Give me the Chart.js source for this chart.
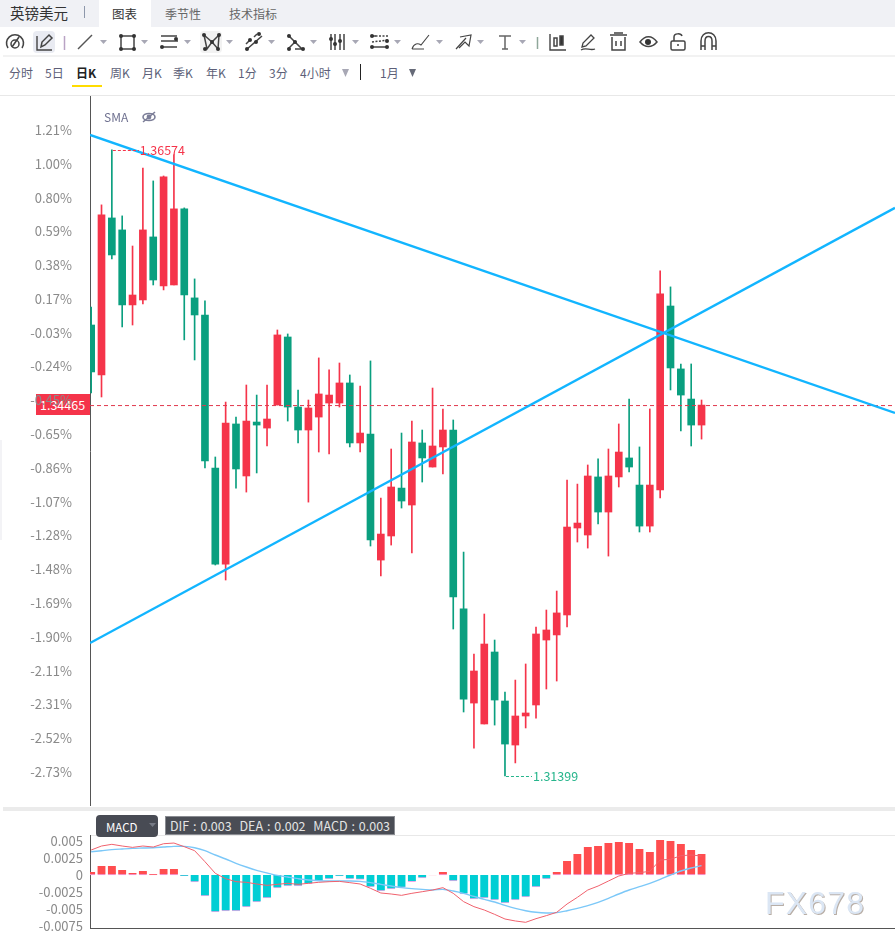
<!DOCTYPE html>
<html>
<head>
<meta charset="utf-8">
<title>英镑美元</title>
<script src="https://cdn.jsdelivr.net/npm/chart.js@4"></script>
<style>
html, body { margin: 0; padding: 0; background: #fff; }
body { position: relative; width: 895px; height: 938px; overflow: hidden; font-family: "Noto Sans CJK SC", "Noto Sans", sans-serif; }
.abs, canvas { position: absolute; }
.t { position: absolute; white-space: nowrap; line-height: 16px; }
.time { top: 65px; font-size: 12px; color: #5d5f78; }
</style>
</head>
<body>

<!-- top tabs -->
<div class="abs" style="left:0;top:0;width:895px;height:27px;background:#f0f1f5"></div>
<div class="abs" style="left:99px;top:0;width:52px;height:27px;background:#fff"></div>
<div class="t" style="left:10px;top:5px;font-size:14.5px;color:#333">英镑美元</div>
<div class="abs" style="left:84px;top:6px;width:1px;height:12px;background:#8d97aa"></div>
<div class="t" style="left:112px;top:6px;font-size:12.5px;color:#333">图表</div>
<div class="t" style="left:165px;top:6px;font-size:12px;color:#666">季节性</div>
<div class="t" style="left:229px;top:6px;font-size:12px;color:#666">技术指标</div>

<!-- drawing toolbar -->
<svg class="abs" style="left:0;top:0" width="895" height="96" fill="none" stroke="#444" stroke-width="1.5">
  <line x1="3" y1="56" x2="895" y2="56" stroke="#eee"/>
  <line x1="0" y1="95.5" x2="895" y2="95.5" stroke="#e8e8e8" stroke-width="1"/>
  <rect x="33" y="31" width="22" height="22" rx="4" fill="#e9ebf2" stroke="none"/>
  <rect x="200" y="31" width="22" height="22" rx="4" fill="#f2f2f2" stroke="none"/>
  <path d="M8 48 A8.5 8.5 0 1 1 22 48 M19 37 L12 47" stroke-width="1.6"/>
  <circle cx="15" cy="44" r="4"/>
  <path d="M37 36 V50 H52" stroke-width="1.4"/>
  <path d="M41 47 L42 42 L49 35 L52 38 L45 45 Z"/>
  <line x1="64.5" y1="36" x2="64.5" y2="50" stroke="#b9a3c4"/>
  <line x1="78" y1="49" x2="92" y2="35" stroke="#555"/>
  <rect x="121" y="36" width="13" height="13"/>
  <g fill="#333" stroke="none"><circle cx="121" cy="36" r="2"/><circle cx="134" cy="36" r="2"/><circle cx="121" cy="49" r="2"/><circle cx="134" cy="49" r="2"/></g>
  <path d="M161 36 H177 M161 41 H178 M161 47 H177"/>
  <g fill="#333" stroke="none"><circle cx="176" cy="39" r="2"/><circle cx="162" cy="47" r="2"/></g>
  <path d="M204 35 L207 49 L212 42 L218 49 L219 35 L212 42 L204 35"/>
  <g fill="#333" stroke="none"><circle cx="204" cy="35" r="2"/><circle cx="219" cy="35" r="2"/><circle cx="212" cy="42" r="2"/><circle cx="205" cy="49" r="2"/><circle cx="218" cy="49" r="2"/></g>
  <path d="M246 44 L250 40 M257 34 L254 37 M246 50 L262 36"/>
  <g fill="#333" stroke="none"><circle cx="250" cy="40" r="2"/><circle cx="259" cy="34" r="2"/><circle cx="247" cy="49" r="2"/><circle cx="256" cy="42" r="2"/></g>
  <path d="M288 35 L302 49 H295 M288 49 L296 41"/>
  <g fill="#333" stroke="none"><circle cx="289" cy="36" r="2"/><circle cx="295" cy="42" r="2"/><circle cx="289" cy="49" r="2"/><circle cx="303" cy="49" r="2"/></g>
  <path d="M331 34 V50 M335 34 V50 M340 34 V50 M344 34 V50"/>
  <g fill="#333" stroke="none"><circle cx="331" cy="39" r="2"/><circle cx="335" cy="44" r="2"/><circle cx="340" cy="41" r="2"/></g>
  <path d="M372 36 H388 M372 42 L388 40" stroke-dasharray="2 1.5"/>
  <path d="M372 47 H388 M372 36 H376"/>
  <g fill="#333" stroke="none"><circle cx="372" cy="36" r="2"/><circle cx="372" cy="47" r="2"/><circle cx="387" cy="47" r="2"/><circle cx="387" cy="41" r="2"/></g>
  <path d="M412 49 C414 43 418 43 421 45 L429 35 M412 49 H424" stroke-width="1.1"/>
  <path d="M456 49 L466 38 M460 37 L471 35 L469 46 L465 42 L459 48" stroke-width="1.2"/>
  <path d="M499 36 H511 M505 36 V49 M502 49 H508" stroke="#666"/>
  <line x1="537.5" y1="37" x2="537.5" y2="49" stroke="#8fa79a"/>
  <path d="M550 34 V50 H566" stroke-width="1.4"/>
  <rect x="554" y="38" width="3" height="8"/>
  <rect x="560" y="36" width="3" height="9" fill="#333"/>
  <path d="M582 47 L583 43 L591 35 L594 38 L586 46 Z M581 50 C586 47 590 51 595 49" stroke-width="1.3"/>
  <path d="M610 35 H627 M614 33 H623 M612 37 V50 H625 V37 M616 41 V46 M621 41 V46"/>
  <path d="M640 42 C645 35 652 35 657 42 C652 48 645 48 640 42 Z"/>
  <circle cx="648" cy="42" r="3" fill="#333" stroke="none"/>
  <rect x="671" y="41" width="14" height="9" rx="1.5"/>
  <path d="M674 41 V37 C674 33 681 33 682 36 M678 44 V46"/>
  <path d="M701 50 V41 C701 30 716 30 716 41 V50 M701 46 H705 M712 46 H716 M705 50 V41 C705 35 712 35 712 41 V50"/>
  <!-- dropdown carets -->
  <g fill="#a8a8b5" stroke="none">
    <polygon points="100,40 107,40 103.5,44"/><polygon points="141,40 148,40 144.5,44"/><polygon points="184,40 191,40 187.5,44"/>
    <polygon points="226,40 233,40 229.5,44"/><polygon points="268,40 275,40 271.5,44"/><polygon points="310,40 317,40 313.5,44"/>
    <polygon points="352,40 359,40 355.5,44"/><polygon points="394,40 401,40 397.5,44"/><polygon points="436,40 443,40 439.5,44"/>
    <polygon points="477,40 484,40 480.5,44"/><polygon points="519,40 526,40 522.5,44"/>
    <polygon points="342,69 349,69 345.5,77"/>
  </g>
  <polygon points="409,69 416,69 412.5,77" fill="#666a78" stroke="none"/>
  <line x1="360.5" y1="64" x2="360.5" y2="80" stroke="#222" stroke-width="1"/>
  <rect x="72" y="85" width="30" height="2" fill="#ffdc00" stroke="none"/>
</svg>

<!-- period row -->
<div class="t time" style="left:9px">分时</div>
<div class="t time" style="left:45px">5日</div>
<div class="t time" style="left:76px;font-weight:bold;color:#222">日K</div>
<div class="t time" style="left:110px">周K</div>
<div class="t time" style="left:142px">月K</div>
<div class="t time" style="left:173px">季K</div>
<div class="t time" style="left:206px">年K</div>
<div class="t time" style="left:238px">1分</div>
<div class="t time" style="left:269px">3分</div>
<div class="t time" style="left:300px">4小时</div>
<div class="t time" style="left:380px">1月</div>

<!-- last price tag sits under the canvas, the axis text runs over it -->
<div class="abs" style="left:36px;top:394px;width:55px;height:21px;background:#f5344a"></div>
<div class="t" style="left:40px;top:397px;font-size:12.5px;color:#fff">1.34465</div>
<div class="abs" style="left:0;top:440px;width:2px;height:100px;background:#f3f3f6"></div>

<canvas id="mainChart" width="895" height="710" style="left:0;top:96px"></canvas>

<div class="t" style="left:104px;top:109px;font-size:12px;color:#6f7190">SMA</div>
<svg class="abs" style="left:140px;top:110px" width="18" height="14" fill="none" stroke="#7c7e98" stroke-width="1.6">
  <ellipse cx="9" cy="7" rx="6" ry="3.5"/><circle cx="9" cy="7" r="1.6" fill="#7c7e98"/><line x1="3" y1="12" x2="15" y2="2"/>
</svg>

<div class="abs" style="left:3px;top:807px;width:892px;height:4px;background:#ebebeb"></div>
<div class="abs" style="left:90px;top:835px;width:805px;height:1px;background:#e8e8e8"></div>

<canvas id="macdChart" width="895" height="113" style="left:0;top:825px"></canvas>

<!-- MACD header -->
<div class="abs" style="left:96px;top:815px;width:62px;height:22px;background:#484b54;border-radius:4px"></div>
<div class="t" style="left:106px;top:819px;font-size:11.5px;color:#fff">MACD</div>
<svg class="abs" style="left:149px;top:823px" width="8" height="6"><polygon points="0,0 7,0 3.5,4" fill="#777b86"/></svg>
<div class="t" style="left:165px;top:816px;width:230px;height:19px;line-height:17px;padding-left:4px;box-sizing:border-box;background:#4a4d55;border:1px solid #8a8c92;font-size:12.5px;word-spacing:1.1px;color:#e4e4e4;white-space:pre">DIF : 0.003  DEA : 0.002  MACD : 0.003</div>

<div class="t" style="left:765px;top:886px;line-height:34px;font-family:'Liberation Sans';font-size:32px;letter-spacing:1.2px;color:#dbe6f4;text-shadow:1px 1px 0 #b8aea6">FX678</div>

<script>
// Daily candles, oldest first
var opens = [1.35127, 1.34714, 1.36012, 1.35913, 1.35293, 1.35334, 1.35855, 1.35450, 1.35458, 1.36087,
  1.35351, 1.35210, 1.33945, 1.33151, 1.34309, 1.33879, 1.34325, 1.34275, 1.34466, 1.35028,
  1.34449, 1.34259, 1.34366, 1.34482, 1.34482, 1.34648, 1.34152, 1.34226, 1.33184, 1.33383,
  1.33779, 1.33639, 1.34152, 1.33953, 1.34119, 1.34259, 1.32780, 1.32002, 1.31829, 1.32424,
  1.32019, 1.31655, 1.31895, 1.31986, 1.32523, 1.32565, 1.32730, 1.33449, 1.33391, 1.33871,
  1.33581, 1.33871, 1.34028, 1.33804, 1.33465, 1.33763, 1.35284, 1.34764, 1.34515, 1.34300];
var highs = [1.35276, 1.36120, 1.36574, 1.36029, 1.35780, 1.36425, 1.36318, 1.36359, 1.36533, 1.36095,
  1.35508, 1.35326, 1.34036, 1.34490, 1.34366, 1.34631, 1.34548, 1.34631, 1.35086, 1.35053,
  1.34590, 1.34507, 1.34855, 1.34756, 1.34813, 1.34714, 1.34623, 1.34830, 1.33697, 1.34102,
  1.34234, 1.34333, 1.34259, 1.34606, 1.34433, 1.34342, 1.33250, 1.32407, 1.32738, 1.32523,
  1.32093, 1.32192, 1.32325, 1.32631, 1.32771, 1.32928, 1.33846, 1.33812, 1.33970, 1.34020,
  1.34102, 1.34309, 1.34515, 1.34119, 1.34433, 1.35574, 1.35442, 1.34805, 1.34805, 1.34507];
var lows = [1.34565, 1.34532, 1.35673, 1.35111, 1.35127, 1.35301, 1.35458, 1.35417, 1.35458, 1.35004,
  1.34838, 1.33945, 1.33143, 1.33019, 1.33779, 1.33746, 1.33904, 1.34127, 1.34466, 1.34333,
  1.34152, 1.33663, 1.34077, 1.34061, 1.34449, 1.34119, 1.34077, 1.33300, 1.33052, 1.33308,
  1.33614, 1.33242, 1.33829, 1.33953, 1.33896, 1.32614, 1.31928, 1.31630, 1.31829, 1.31820,
  1.31399, 1.31507, 1.31796, 1.31878, 1.32118, 1.32184, 1.32631, 1.33333, 1.33283, 1.33482,
  1.33217, 1.33788, 1.33912, 1.33416, 1.33416, 1.33697, 1.34590, 1.34251, 1.34127, 1.34184];
var closes = [1.34739, 1.36037, 1.35706, 1.35293, 1.35375, 1.35913, 1.35499, 1.36351, 1.36087, 1.35375,
  1.35210, 1.34003, 1.33151, 1.34317, 1.33937, 1.34333, 1.34300, 1.34350, 1.35045, 1.34449,
  1.34259, 1.34441, 1.34557, 1.34548, 1.34648, 1.34152, 1.34234, 1.33350, 1.33399, 1.33788,
  1.33672, 1.34160, 1.34028, 1.34127, 1.34259, 1.32879, 1.32035, 1.32267, 1.32490, 1.32027,
  1.31663, 1.31895, 1.31920, 1.32573, 1.32606, 1.32747, 1.33457, 1.33490, 1.33879, 1.33581,
  1.33879, 1.34077, 1.33953, 1.33465, 1.33804, 1.35384, 1.34772, 1.34548, 1.34300, 1.34465];

// MACD panel
var macdBars = [0.00044, 0.00133, 0.00133, 0.00074, 0.0003, 0.00059, 0.00015, 0.00089, 0.00089, -0.0001,
  -0.00104, -0.00311, -0.00547, -0.00532, -0.00532, -0.00473, -0.00399, -0.0034, -0.00192, -0.00163,
  -0.00163, -0.00128, -0.00089, -0.00059, -0.00015, -0.00059, -0.00064, -0.00178, -0.00237, -0.00207,
  -0.00182, -0.00099, -0.00044, 0.00002, 0.00044, -0.00089, -0.00281, -0.00355, -0.0034, -0.0037,
  -0.00414, -0.0037, -0.00325, -0.00178, -0.00059, 0.00044, 0.00207, 0.00311, 0.00414, 0.00429,
  0.00473, 0.00488, 0.00473, 0.00385, 0.0034, 0.00518, 0.00503, 0.00459, 0.0037, 0.00311];
var dif = [0.0037, 0.00429, 0.00454, 0.00429, 0.00409, 0.00429, 0.00414, 0.00463, 0.00473, 0.00419,
  0.0036, 0.00197, 0.00025, -0.00054, -0.00099, -0.00108, -0.00133, -0.00153, -0.00138, -0.00123,
  -0.00138, -0.00123, -0.00108, -0.00099, -0.00094, -0.00113, -0.00133, -0.00197, -0.00266, -0.00281,
  -0.00301, -0.00271, -0.00247, -0.00222, -0.00187, -0.00271, -0.00394, -0.00468, -0.00518, -0.00582,
  -0.00651, -0.0068, -0.007, -0.00646, -0.00601, -0.00552, -0.00429, -0.0033, -0.00222, -0.00163,
  -0.00089, -0.00015, 0.00025, 0.00035, 0.00054, 0.00222, 0.00232, 0.00286, 0.00296, 0.00281];
var dea = [0.00345, 0.0036, 0.00375, 0.00385, 0.00394, 0.00399, 0.00404, 0.00414, 0.00424, 0.00424,
  0.00404, 0.0036, 0.00296, 0.00237, 0.00173, 0.00118, 0.00069, 0.0003, -0.00005, -0.0003,
  -0.00054, -0.00074, -0.00084, -0.00089, -0.00089, -0.00089, -0.00094, -0.00113, -0.00138, -0.00163,
  -0.00187, -0.00202, -0.00212, -0.00222, -0.00212, -0.00237, -0.00271, -0.00316, -0.0036, -0.00399,
  -0.00449, -0.00493, -0.00528, -0.00552, -0.00562, -0.00557, -0.00528, -0.00493, -0.00454, -0.00404,
  -0.00345, -0.00281, -0.00222, -0.00173, -0.00123, -0.00064, 0, 0.00059, 0.00104, 0.00138];

// Axis ticks
var priceTicks = [1.36739, 1.36460, 1.36180, 1.35901, 1.35622, 1.35342, 1.35064, 1.34784, 1.34505, 1.34226,
  1.33946, 1.33667, 1.33387, 1.33108, 1.32829, 1.32549, 1.32270, 1.31991, 1.31711, 1.31432];
var priceLabels = ['1.21%', '1.00%', '0.80%', '0.59%', '0.38%', '0.17%', '-0.03%', '-0.24%', '-0.45%', '-0.65%',
  '-0.86%', '-1.07%', '-1.28%', '-1.48%', '-1.69%', '-1.90%', '-2.11%', '-2.31%', '-2.52%', '-2.73%'];
var macdTicks = [0.005, 0.0025, 0, -0.0025, -0.005, -0.0075];
var macdLabels = ['0.005', '0.0025', '0', '-0.0025', '-0.005', '-0.0075'];

// Hand drawn trend lines, [start, end] prices at the chart edges
var fallingLine = [1.36698, 1.34400];
var risingLine = [1.32498, 1.36095];
// Where the dashed last price line sits on the picture
var lastPriceLine = 1.34461;

var RED = '#f5344a';
var GREEN = '#0a9f7f';
var FONT = '"Noto Sans CJK SC", "Noto Sans", sans-serif';
var XMIN = -0.112;
var XMAX = 77.7;

function candleColor(c, i) {
    return c >= opens[i] ? RED : GREEN;
}

function edgeLine(ends, color, width, dash) {
    return {
        type: 'line',
        data: [{x: XMIN, y: ends[0]}, {x: XMAX, y: ends[1]}],
        borderColor: color,
        borderWidth: width,
        borderDash: dash || [],
        pointRadius: 0
    };
}

function fixedTicks(values) {
    return function(scale) {
        scale.ticks = values.map(function(v) { return {value: v}; });
    };
}

// Keep the plot height whatever the tick padding is
function fitAxis(scale) {
    scale.width = 90;
    scale.paddingTop = 0;
    scale.paddingBottom = 0;
}

// High and low markers with the little dashed lead
var extremes = {
    id: 'extremes',
    afterDatasetsDraw: function(chart) {
        var x = chart.scales.x, y = chart.scales.y, ctx = chart.ctx;
        var hi = Math.max.apply(null, highs), lo = Math.min.apply(null, lows);
        [[hi, highs.indexOf(hi), RED], [lo, lows.indexOf(lo), '#27b58c']].forEach(function(m) {
            var px = x.getPixelForValue(m[1]) + 1, py = Math.round(y.getPixelForValue(m[0])) + 0.5;
            ctx.save();
            ctx.strokeStyle = m[2];
            ctx.setLineDash([3, 2]);
            ctx.beginPath();
            ctx.moveTo(px, py);
            ctx.lineTo(px + 26, py);
            ctx.stroke();
            ctx.setLineDash([]);
            ctx.fillStyle = m[2];
            ctx.font = '12.5px ' + FONT;
            ctx.textBaseline = 'middle';
            ctx.fillText(m[0].toFixed(5), px + 27, py);
            ctx.restore();
        });
    }
};

window.addEventListener('load', function() {
    // Candles: a thin bar for the wick and a wider one for the body
    var mainCtx = document.getElementById('mainChart').getContext('2d');
    new Chart(mainCtx, {
        type: 'bar',
        data: {
            datasets: [
                edgeLine(fallingLine, '#12b5ff', 2.4),
                edgeLine(risingLine, '#12b5ff', 2.4),
                edgeLine([lastPriceLine, lastPriceLine], '#e0384c', 1, [4, 3]),
                {
                    data: closes.map(function(c, i) { return {x: i, y: [opens[i], c]}; }),
                    backgroundColor: closes.map(candleColor),
                    barThickness: 7,
                    grouped: false
                },
                {
                    data: closes.map(function(c, i) { return {x: i, y: [lows[i], highs[i]]}; }),
                    backgroundColor: closes.map(candleColor),
                    barThickness: 1,
                    grouped: false
                }
            ]
        },
        options: {
            responsive: false,
            animation: false,
            layout: {padding: 0},
            plugins: {legend: {display: false}, tooltip: {enabled: false}},
            scales: {
                x: {type: 'linear', offset: false, min: XMIN, max: XMAX, display: false},
                y: {
                    min: 1.31151,
                    max: 1.37020,
                    afterBuildTicks: fixedTicks(priceTicks),
                    afterFit: fitAxis,
                    grid: {display: false, drawTicks: false},
                    border: {color: '#555', width: 1},
                    ticks: {
                        autoSkip: false,
                        padding: 18,
                        color: '#8a8a8a',
                        font: {family: FONT, size: 13},
                        callback: function(v) { return priceLabels[priceTicks.indexOf(v)]; }
                    }
                }
            }
        },
        plugins: [extremes]
    });

    // MACD
    var macdCtx = document.getElementById('macdChart').getContext('2d');
    new Chart(macdCtx, {
        type: 'bar',
        data: {
            datasets: [
                {
                    type: 'line',
                    data: dif.map(function(v, i) { return {x: i, y: v}; }),
                    borderColor: '#f0616d',
                    borderWidth: 1,
                    pointRadius: 0
                },
                {
                    type: 'line',
                    data: dea.map(function(v, i) { return {x: i, y: v}; }),
                    borderColor: '#7cc8f8',
                    borderWidth: 1.4,
                    pointRadius: 0,
                    tension: 0.3
                },
                {
                    data: macdBars.map(function(v, i) { return {x: i, y: v}; }),
                    backgroundColor: macdBars.map(function(v) { return v >= 0 ? '#ff4d4f' : '#00ced4'; }),
                    borderColor: '#f3a6ea',
                    borderWidth: {top: 0, left: 0, right: 0, bottom: 1},
                    borderSkipped: false,
                    barThickness: 8
                }
            ]
        },
        options: {
            responsive: false,
            animation: false,
            layout: {padding: {top: 10, bottom: 10}},
            plugins: {legend: {display: false}, tooltip: {enabled: false}},
            scales: {
                x: {
                    type: 'linear',
                    offset: false,
                    min: XMIN,
                    max: XMAX,
                    grid: {display: false, drawTicks: false},
                    border: {color: '#555', width: 1},
                    ticks: {display: false}
                },
                y: {
                    min: -0.00784,
                    max: 0.00592,
                    afterBuildTicks: fixedTicks(macdTicks.slice().reverse()),
                    afterFit: fitAxis,
                    grid: {display: false, drawTicks: false},
                    border: {color: '#555', width: 1},
                    ticks: {
                        autoSkip: false,
                        padding: 7,
                        color: '#8a8a8a',
                        font: {family: FONT, size: 13},
                        callback: function(v) { return macdLabels[macdTicks.indexOf(v)]; }
                    }
                }
            }
        }
    });
});
</script>
</body>
</html>
